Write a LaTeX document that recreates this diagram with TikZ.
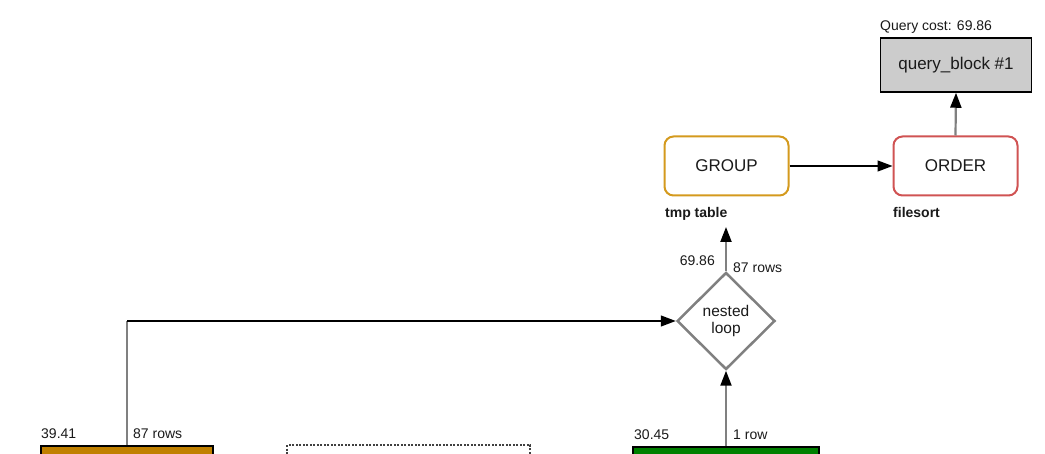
\documentclass[tikz,border=0pt]{standalone}
\usepackage{fontspec}
\setmainfont{Liberation Sans}
\usetikzlibrary{shapes.geometric,arrows.meta}
\definecolor{grpc}{HTML}{D49A1E}
\definecolor{ordc}{HTML}{D05353}
\definecolor{orangefill}{HTML}{C08000}
\definecolor{greenfill}{HTML}{008000}
\definecolor{qbfill}{HTML}{CCCCCC}
\definecolor{linegray}{HTML}{808080}
\definecolor{txt}{HTML}{1A1A1A}
\tikzset{
  smallfont/.style={font=\fontsize{14}{16}\selectfont},
  bigfont/.style={font=\fontsize{17}{19}\selectfont},
  lbl/.style={smallfont, inner sep=0pt, text=txt},
  opbox/.style={draw, line width=2pt, rounded corners=9pt, fill=white, minimum width=124pt, minimum height=59pt, bigfont, text=txt},
  qbox/.style={draw=black, line width=1.5pt, fill=qbfill, minimum width=151pt, minimum height=54pt, bigfont, text=txt},
  tablebox/.style={draw=black, line width=1.5pt, minimum height=60pt, inner sep=0pt},
  loopnode/.style={diamond, draw=linegray, line width=2.5pt, fill=white, minimum width=98pt, minimum height=97pt, inner sep=0pt, align=center, font=\fontsize{15.5}{17}\selectfont, text=txt},
  gline/.style={draw=linegray, line width=2.2pt},
  bline/.style={draw=black, line width=1.3pt},
  tip/.style={-{Triangle[length=15pt,width=11pt,color=black,fill=black]}}
}
\begin{document}
\begin{tikzpicture}[x=1pt,y=-1pt]
\useasboundingbox (0,0) rectangle (1045,454);
\clip (0,0) rectangle (1045,454);
\fill[white] (0,0) rectangle (1045,454);

% top operations
\node[qbox] (qb) at (956,65) {query\_block \#1};
\node[lbl, anchor=base west] (qc) at (880,30.5) {Query cost: 69.86};
\node[opbox, draw=grpc] (grp) at (726.5,166) {GROUP};
\node[opbox, draw=ordc] (ord) at (955.5,166) {ORDER};
\node[lbl, anchor=base west] (tmpt) at (665,217.5) {\bfseries tmp table};
\node[lbl, anchor=base west] (fsort) at (893,217.5) {\bfseries filesort};

% nested loop
\node[loopnode] (nl) at (726,321) {nested\\loop};
\node[lbl, anchor=base east] (nlcost) at (715,266) {69.86};
\node[lbl, anchor=base west] (nlrows) at (733,273) {87 rows};

% tables (cut off at bottom)
\node[tablebox, fill=orangefill, minimum width=172pt] (ob) at (127,476) {};
\node[draw=black!75, dash pattern=on 2pt off 1.5pt, line width=1.3pt, minimum width=243pt, minimum height=60pt] (db) at (408.5,475) {};
\node[tablebox, fill=greenfill, minimum width=186pt] (gb) at (726,477) {};

\node[lbl, anchor=base west] (obcost) at (41,438.5) {39.41};
\node[lbl, anchor=base west] (obrows) at (133,438.5) {87 rows};
\node[lbl, anchor=base west] (gbcost) at (634,439) {30.45};
\node[lbl, anchor=base west] (gbrows) at (733,439) {1 row};

% connectors
\coordinate (corner) at (127,321);
\coordinate (grpin) at (726,227);
\draw[gline] (ob.north) -- (corner);
\draw[bline, tip] (corner) -- (nl.west);
\draw[gline, tip] (gb.north) -- (nl.south);
\draw[gline, tip] (nl.north) -- (grpin);
\draw[bline, tip] (grp.east) -- (ord.west);
\draw[gline, tip] (ord.north) -- (qb.south);
\end{tikzpicture}
\end{document}
